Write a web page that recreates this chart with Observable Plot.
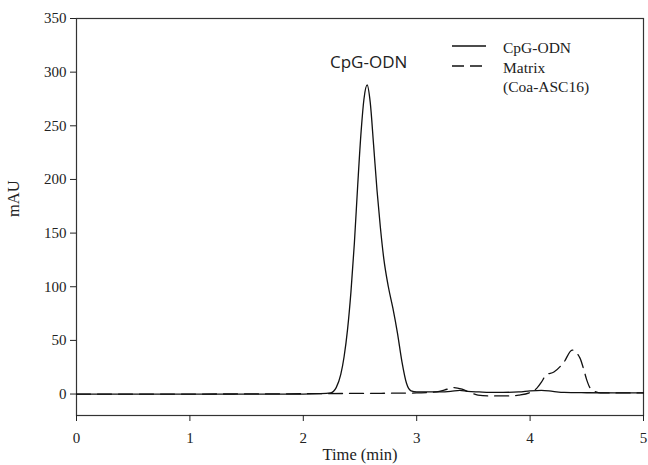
<!DOCTYPE html>
<html>
<head>
<meta charset="utf-8">
<script src="https://cdn.jsdelivr.net/npm/d3@7"></script>
<script src="https://cdn.jsdelivr.net/npm/@observablehq/plot@0.6"></script>
<style>
  html, body { margin: 0; padding: 0; background: #fff; }
  #wrap { position: relative; width: 648px; height: 465px; }
  #legend { position: absolute; left: 450px; top: 38px; font-family: "Liberation Serif", serif; font-size: 15.5px; color: #222; line-height: 19.5px; }
  #legend .row { display: flex; align-items: center; height: 19.5px; }
  #legend svg { width: 38px; height: 19.5px; margin-right: 15px; }
</style>
</head>
<body>
<div id="wrap">
  <div id="chart"></div>
  <div id="legend"></div>
</div>
<script>
// ---- data ----
const seriesNames = ["CpG-ODN", "Matrix\n(Coa-ASC16)"];

const cpgTime = [0, 0.5, 1, 1.5, 2, 2.15, 2.24, 2.29, 2.33, 2.36, 2.39, 2.42, 2.45, 2.48, 2.51, 2.535, 2.563, 2.59, 2.62, 2.65, 2.68, 2.71, 2.75, 2.79, 2.83, 2.87, 2.91, 2.95, 3.0, 3.1, 3.2, 3.3, 3.38, 3.45, 3.55, 3.7, 3.9, 4.0, 4.1, 4.2, 4.3, 4.5, 4.75, 5.0];
const cpgValue = [0, 0, 0, 0, 0, 0.3, 1, 6, 18, 35, 60, 95, 140, 195, 245, 275, 288, 272, 232, 190, 155, 126, 100, 80, 57, 30, 10, 3, 2, 2, 2, 2.5, 3.5, 2.5, 2, 1.5, 2, 3, 3.5, 2.5, 1.5, 1.2, 1, 1];

const matrixTime = [0, 1, 2, 2.5, 3.0, 3.1, 3.2, 3.27, 3.33, 3.40, 3.47, 3.54, 3.65, 3.8, 3.9, 4.0, 4.06, 4.10, 4.14, 4.21, 4.30, 4.37, 4.44, 4.47, 4.50, 4.53, 4.58, 4.62, 4.75, 5.0];
const matrixValue = [0, 0, 0.3, 0.6, 1, 1.5, 2.5, 4.5, 6, 4.5, 1.5, -1, -1.8, -1.8, -1, 1.5, 5.5, 11, 17.7, 20.5, 30, 41, 33.5, 24, 13, 5.6, 2, 1, 1, 1];

const xTicks = [0, 1, 2, 3, 4, 5];
const yTicks = [0, 50, 100, 150, 200, 250, 300, 350];
const xLabel = "Time (min)";
const yLabel = "mAU";
const peakLabel = "CpG-ODN";

// ---- build tables ----
const cpg = cpgTime.map((t, i) => ({t, v: cpgValue[i]}));
const matrix = matrixTime.map((t, i) => ({t, v: matrixValue[i]}));
const peakIdx = cpgValue.indexOf(d3.max(cpgValue));
const peak = [{t: cpgTime[peakIdx], v: cpgValue[peakIdx], label: peakLabel}];

const chart = Plot.plot({
  width: 648,
  height: 465,
  marginTop: 18,
  marginBottom: 50,
  marginLeft: 76,
  marginRight: 5,
  style: {fontFamily: "'Liberation Serif', serif", fontSize: "15px", color: "#222", background: "#fff"},
  x: {domain: [0, 5]},
  y: {domain: [-20, 350]},
  marks: [
    Plot.frame({stroke: "#333", strokeWidth: 1.2}),
    Plot.axisX({ticks: xTicks, tickSize: 6, tickPadding: 11, tickFormat: d => String(d), fontSize: 15, label: null}),
    Plot.axisY({ticks: yTicks, tickSize: 6, tickPadding: 4, tickFormat: d => String(d), fontSize: 15, label: null}),
    Plot.text([xLabel], {frameAnchor: "bottom", dy: 44, text: d => d, fontSize: 16.5, fill: "#222"}),
    Plot.text([yLabel], {frameAnchor: "left", dx: -63, rotate: -90, text: d => d, fontSize: 16.5, fill: "#222"}),
    Plot.line(matrix, {x: "t", y: "v", stroke: "#111", strokeWidth: 1.3, strokeDasharray: "14,7", curve: "monotone-x"}),
    Plot.line(cpg, {x: "t", y: "v", stroke: "#111", strokeWidth: 1.3, curve: "monotone-x"}),
    Plot.text(peak, {x: "t", y: "v", text: "label", dy: -22, dx: 1.5, fontSize: 17, fontFamily: "'Open Sans', sans-serif", fill: "#222"})
  ]
});
document.getElementById("chart").appendChild(chart);

// ---- legend ----
const legend = document.getElementById("legend");
const dashes = ["none", "12,6"];
seriesNames.forEach((name, i) => {
  const lines = name.split("\n");
  lines.forEach((ln, j) => {
    const row = document.createElement("div");
    row.className = "row";
    const svg = j === 0
      ? `<svg><line x1="2" x2="36" y1="8" y2="8" stroke="#111" stroke-width="1.3" stroke-dasharray="${dashes[i]}"/></svg>`
      : `<svg></svg>`;
    row.innerHTML = svg + `<span>${ln}</span>`;
    legend.appendChild(row);
  });
});
</script>
</body>
</html>
